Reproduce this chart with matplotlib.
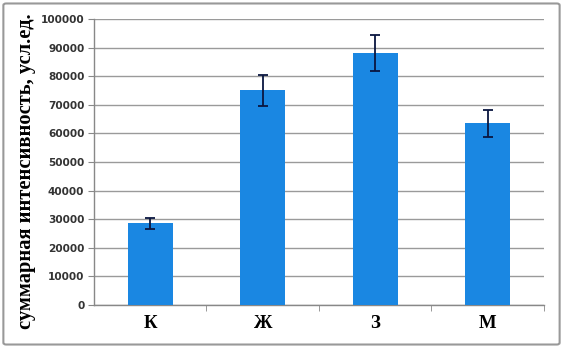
import matplotlib
matplotlib.use("Agg")
import matplotlib.pyplot as plt
from matplotlib.patches import FancyBboxPatch

categories = ["К", "Ж", "З", "М"]
values = [28500, 75000, 88000, 63500]
errors = [2000, 5400, 6300, 4600]

fig = plt.figure(figsize=(5.63, 3.48), dpi=100)
ax = fig.add_axes([0.167, 0.1236, 0.799, 0.822])

x = range(len(categories))
ax.bar(x, values, width=0.4, color="#1a87e2", zorder=3)
ax.errorbar(x, values, yerr=errors, fmt="none", ecolor="#0a1640",
            elinewidth=1.3, capsize=3.5, capthick=1.3, zorder=4)

ax.set_xlim(-0.5, 3.5)
ax.set_ylim(0, 100000)
ax.set_yticks(range(0, 100001, 10000))
ax.set_yticklabels([str(v) for v in range(0, 100001, 10000)],
                   fontfamily="DejaVu Sans", fontweight="bold", fontsize=7.6, color="#333333")
ax.set_xticks(list(x))
ax.set_xticklabels(categories, fontfamily="Liberation Serif", fontweight="bold", fontsize=13.5)
ax.set_xticks([0.5, 1.5, 2.5, 3.5], minor=True)
ax.tick_params(axis="x", which="major", length=0, pad=7)
ax.tick_params(axis="x", which="minor", length=4, color="#888888", direction="out")
ax.tick_params(axis="y", length=4, color="#888888", pad=3)

ax.grid(axis="y", color="#9a9a9a", linewidth=1.0, zorder=0)
ax.set_axisbelow(True)
for s in ["top", "right"]:
    ax.spines[s].set_visible(False)
for s in ["left", "bottom"]:
    ax.spines[s].set_color("#888888")
    ax.spines[s].set_linewidth(1.0)

fig.text(0.046, 0.507, "суммарная интенсивность, усл.ед.", rotation=90,
         ha="center", va="center", fontfamily="Liberation Serif",
         fontweight="bold", fontsize=14.8)

border = FancyBboxPatch((0.006, 0.01), 0.988, 0.98, boxstyle="round,pad=0,rounding_size=0.005",
                        transform=fig.transFigure, fill=False, edgecolor="#999999", linewidth=1.5)
fig.patches.append(border)

fig.savefig("out.png", dpi=100)
